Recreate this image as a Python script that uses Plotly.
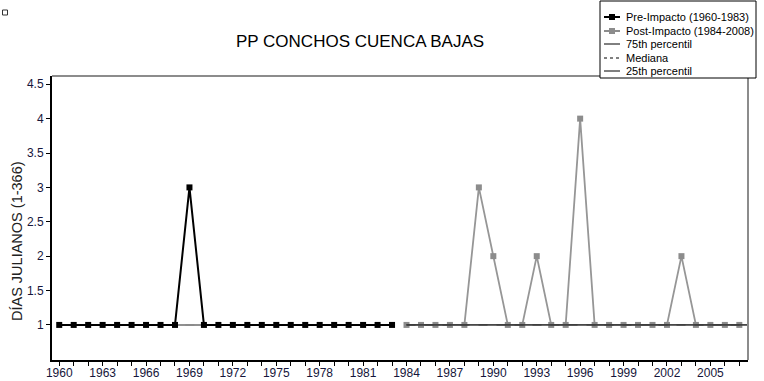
import numpy as np
import plotly.graph_objects as go

# Annual values (Julian-day count) for the two periods
pre_years = list(range(1960, 1984))
pre_vals = [1, 1, 1, 1, 1, 1, 1, 1, 1, 3, 1, 1, 1, 1, 1, 1, 1, 1, 1, 1, 1, 1, 1, 1]
post_years = list(range(1984, 2008))
post_vals = [1, 1, 1, 1, 1, 3, 2, 1, 1, 2, 1, 1, 4, 1, 1, 1, 1, 1, 1, 2, 1, 1, 1, 1]

title_text = "PP CONCHOS CUENCA BAJAS"
y_title = "DÍAS JULIANOS (1-366)"
legend_labels = ["Pre-Impacto (1960-1983)", "Post-Impacto (1984-2008)",
                 "75th percentil", "Mediana", "25th percentil"]
x_tickvals = list(range(1960, 2008, 3))
y_tickvals = [1, 1.5, 2, 2.5, 3, 3.5, 4, 4.5]
y_ticktext = ["1", "1.5", "2", "2.5", "3", "3.5", "4", "4.5"]

W, H = 764, 381
L, R, T, B = 52, 748, 76, 360
FONT = "Liberation Sans, Arial, sans-serif"
TICKCOL = "#15153a"

def px(xp):
    return (xp - L) / (R - L)

def py(yp):
    return (B - yp) / (B - T)

pre_pct = np.percentile(pre_vals, [75, 50, 25])
post_pct = np.percentile(post_vals, [75, 50, 25])
post_end = 2008

fig = go.Figure()

# percentile lines of the pre-impact period
for v, dash in zip(pre_pct, ["solid", "dash", "solid"]):
    fig.add_trace(go.Scatter(x=[pre_years[0], pre_years[-1]], y=[v, v], mode="lines",
                             line=dict(color="#8a8a8a", width=1.5, dash=dash),
                             showlegend=False, hoverinfo="skip"))

fig.add_trace(go.Scatter(x=pre_years, y=pre_vals, mode="lines+markers",
                         line=dict(color="#000000", width=2),
                         marker=dict(symbol="square", size=6, color="#000000"),
                         showlegend=False))
fig.add_trace(go.Scatter(x=post_years, y=post_vals, mode="lines+markers",
                         line=dict(color="#969696", width=1.8),
                         marker=dict(symbol="square", size=6, color="#8c8c8c"),
                         showlegend=False))

# percentile lines of the post-impact period
for v, dash in zip(post_pct, ["solid", "dash", "solid"]):
    fig.add_trace(go.Scatter(x=[post_years[0], post_end], y=[v, v], mode="lines",
                             line=dict(color="#3c3c3c", width=1.3, dash=dash),
                             showlegend=False, hoverinfo="skip"))

shapes = []
annotations = []

# frame: grey top and right edges
shapes.append(dict(type="line", xref="paper", yref="paper", x0=0, x1=1, y0=1, y1=1,
                   line=dict(color="#8c8c8c", width=2)))
shapes.append(dict(type="line", xref="paper", yref="paper", x0=1, x1=1, y0=0, y1=1,
                   line=dict(color="#8c8c8c", width=2)))

# legend box
shapes.append(dict(type="rect", xref="paper", yref="paper",
                   x0=px(600), x1=px(756), y0=py(78), y1=py(1),
                   line=dict(color="#000000", width=1), fillcolor="#ffffff"))
row_y = [17, 31, 44, 58, 71]
sample_styles = [("#000000", "solid", 2, True), ("#8c8c8c", "solid", 2, True),
                 ("#000000", "solid", 1, False), ("#000000", "dot", 1, False),
                 ("#000000", "solid", 1, False)]
for label, yy, (col, dash, w, mk) in zip(legend_labels, row_y, sample_styles):
    shapes.append(dict(type="line", xref="paper", yref="paper",
                       x0=px(604), x1=px(620), y0=py(yy), y1=py(yy),
                       line=dict(color=col, width=w, dash=dash)))
    if mk:
        shapes.append(dict(type="rect", xref="paper", yref="paper",
                           x0=px(609), x1=px(615), y0=py(yy + 3), y1=py(yy - 3),
                           line=dict(width=0), fillcolor=col))
    annotations.append(dict(text=label, xref="paper", yref="paper",
                            x=px(624), y=py(yy), xanchor="left", yanchor="middle",
                            showarrow=False, font=dict(family=FONT, size=11, color="#000000")))

# small marker box in the corner
shapes.append(dict(type="rect", xref="paper", yref="paper",
                   x0=px(2.5), x1=px(7.5), y0=py(15), y1=py(10),
                   line=dict(color="#333333", width=1), fillcolor="#ffffff"))

annotations.append(dict(text=title_text, xref="paper", yref="paper",
                        x=px(360), y=py(42), xanchor="center", yanchor="middle",
                        showarrow=False, font=dict(family=FONT, size=17, color="#000000")))
annotations.append(dict(text=y_title, xref="paper", yref="paper",
                        x=px(17), y=py(241), xanchor="center", yanchor="middle",
                        textangle=-90, showarrow=False,
                        font=dict(family=FONT, size=14.5, color="#222222")))

fig.update_layout(
    width=W, height=H,
    margin=dict(l=L, r=W - R, t=T, b=H - B, pad=0, autoexpand=False),
    paper_bgcolor="#ffffff", plot_bgcolor="#ffffff",
    showlegend=False,
    shapes=shapes, annotations=annotations,
    font=dict(family=FONT, size=12, color=TICKCOL),
)
fig.update_xaxes(range=[1959.5, 2007.6], tickvals=x_tickvals, ticktext=[str(v) for v in x_tickvals],
                 ticks="outside", ticklen=4, tickcolor="#000000", tickwidth=1,
                 minor=dict(dtick=1, tick0=1960, ticks="outside", ticklen=4, tickcolor="#000000"),
                 showline=True, linecolor="#000000", linewidth=2,
                 showgrid=False, zeroline=False, automargin=False,
                 ticklabelstandoff=-3,
                 tickfont=dict(family=FONT, size=12, color=TICKCOL))
fig.update_yaxes(range=[0.49, 4.62], tickvals=y_tickvals, ticktext=y_ticktext,
                 ticks="outside", ticklen=4, tickcolor="#000000", tickwidth=1,
                 showline=True, linecolor="#000000", linewidth=2,
                 showgrid=False, zeroline=False, automargin=False,
                 tickfont=dict(family=FONT, size=12, color=TICKCOL))

fig.write_html("out.html")
